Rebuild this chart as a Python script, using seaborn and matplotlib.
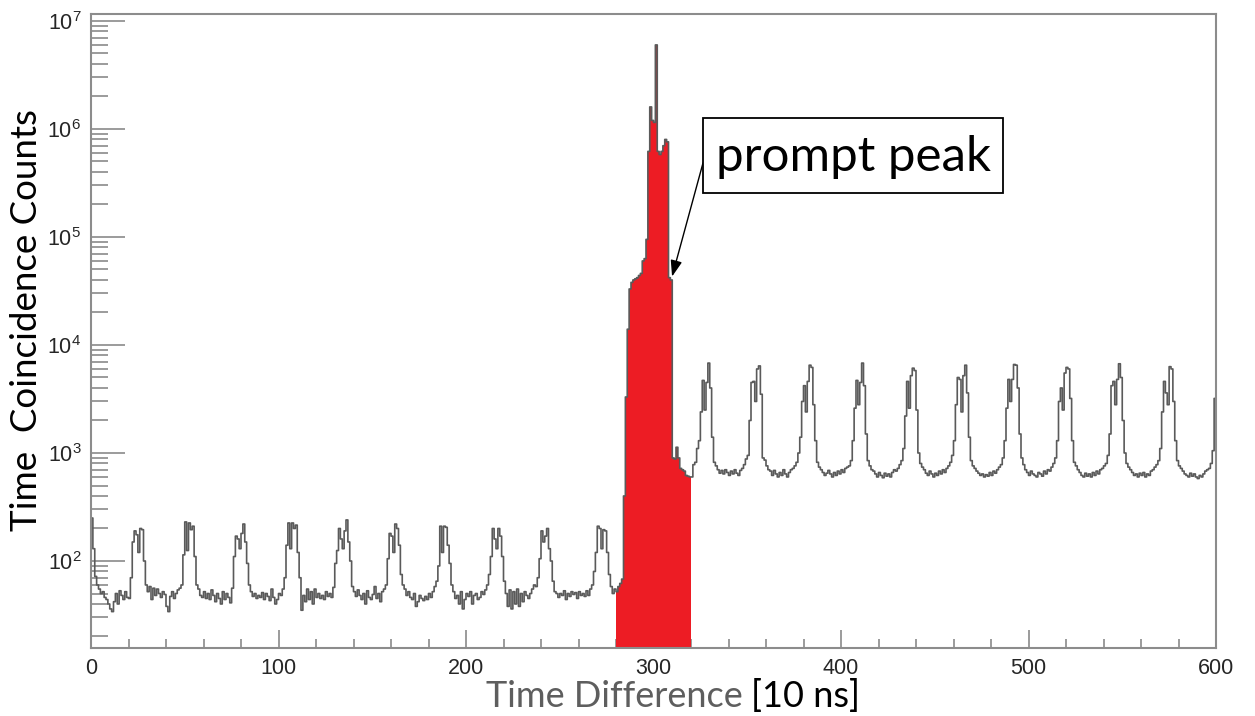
import numpy as np
import pandas as pd
import matplotlib
matplotlib.use("Agg")
import matplotlib.pyplot as plt
import seaborn as sns
from matplotlib.patches import Rectangle
from matplotlib.ticker import MultipleLocator, LogLocator, LogFormatterMathtext, NullFormatter, FixedLocator

# ---------------- data (counts per 1-unit bin) ----------------
# bins 0..279 (accidental coincidences before the prompt peak)
left_counts = [
    250, 130, 72, 60, 55, 50, 52, 46, 44, 40,
    36, 34, 42, 50, 40, 53, 48, 44, 52, 46,
    45, 70, 150, 190, 175, 120, 200, 195, 100, 60,
    52, 58, 44, 56, 48, 55, 50, 46, 52, 49,
    38, 34, 47, 52, 45, 50, 54, 56, 60, 114,
    230, 125, 225, 195, 210, 110, 60, 55, 48, 46,
    52, 45, 50, 44, 54, 48, 42, 50, 45, 40,
    52, 44, 50, 46, 41, 56, 110, 170, 160, 130,
    180, 220, 150, 95, 60, 52, 47, 50, 45, 48,
    46, 51, 44, 50, 47, 43, 55, 46, 40, 44,
    50, 48, 55, 70, 140, 225, 130, 225, 200, 215,
    120, 70, 35, 48, 42, 55, 44, 52, 40, 55,
    46, 50, 45, 48, 44, 52, 47, 50, 46, 57,
    95, 125, 200, 160, 130, 190, 240, 150, 100, 58,
    52, 47, 54, 48, 44, 50, 40, 53, 46, 44,
    49, 58, 45, 50, 42, 52, 55, 60, 105, 180,
    170, 120, 220, 200, 140, 75, 60, 55, 48, 52,
    46, 44, 50, 38, 42, 48, 45, 43, 47, 44,
    50, 46, 52, 58, 65, 90, 210, 120, 210, 205,
    140, 95, 60, 52, 45, 48, 40, 52, 36, 44,
    50, 47, 52, 40, 48, 50, 44, 46, 52, 49,
    54, 60, 75, 110, 200, 160, 130, 200, 170, 110,
    65, 50, 38, 54, 36, 52, 40, 55, 38, 50,
    42, 52, 48, 45, 50, 55, 60, 58, 70, 105,
    190, 150, 170, 200, 130, 100, 65, 52, 50, 46,
    50, 48, 53, 44, 50, 47, 52, 49, 51, 45,
    52, 48, 50, 47, 53, 48, 55, 60, 80, 120,
    210, 200, 130, 195, 190, 120, 75, 58, 50, 55,
]
# bins 280..319 (prompt window, drawn in red)
prompt_counts = [
    52, 58, 62, 68, 400, 3300, 14000, 33000, 38000, 40000,
    41000, 42000, 44000, 46000, 60000, 63000, 95000, 620000, 1600000, 1200000,
    1150000, 6000000, 620000, 580000, 620000, 700000, 800000, 760000, 42000, 40000,
    900, 880, 1130, 900, 720, 700, 680, 620, 610, 600,
]
# bins 320..599 (after the prompt peak)
right_counts = [
    600, 780, 820, 1100, 1300, 2400, 4700, 2500, 4500, 6800,
    4000, 1400, 820, 760, 700, 650, 690, 640, 700, 660,
    620, 680, 640, 700, 650, 620, 690, 720, 780, 880,
    950, 2000, 4500, 4600, 3000, 6000, 6400, 3500, 900, 860,
    760, 700, 680, 620, 690, 640, 600, 660, 620, 700,
    640, 600, 660, 700, 720, 760, 820, 1000, 1400, 3000,
    4200, 2400, 4600, 6500, 6200, 2800, 1300, 820, 740, 700,
    660, 620, 650, 690, 640, 600, 660, 620, 680, 640,
    700, 660, 720, 740, 760, 850, 1300, 2600, 4700, 2800,
    4500, 6800, 4200, 1500, 850, 760, 700, 680, 640, 600,
    660, 620, 590, 650, 610, 640, 600, 660, 700, 680,
    720, 780, 850, 1100, 2200, 4600, 2600, 5200, 6100, 5800,
    2500, 1000, 800, 740, 700, 650, 620, 680, 640, 600,
    650, 620, 680, 640, 700, 660, 720, 760, 820, 950,
    1300, 2800, 5000, 4800, 2400, 5200, 6500, 3600, 1400, 850,
    760, 720, 680, 650, 620, 640, 600, 630, 610, 660,
    620, 680, 650, 700, 740, 780, 900, 1300, 2600, 4800,
    3000, 4800, 6600, 6500, 4000, 1500, 900, 780, 700, 660,
    620, 680, 640, 620, 600, 660, 640, 610, 680, 640,
    700, 680, 740, 800, 900, 1300, 3000, 4000, 2500, 5500,
    6200, 6000, 3200, 1300, 820, 760, 700, 660, 620, 600,
    650, 610, 640, 600, 660, 620, 680, 640, 700, 720,
    760, 800, 950, 1500, 4200, 4600, 2800, 4800, 6700, 5000,
    2000, 1000, 800, 740, 700, 660, 620, 640, 600, 650,
    620, 660, 600, 640, 620, 680, 700, 740, 780, 850,
    1100, 2400, 4600, 3600, 2800, 6300, 6000, 3000, 1300, 850,
    760, 720, 680, 640, 620, 600, 650, 610, 640, 600,
    580, 620, 600, 640, 680, 700, 720, 800, 1050, 3200,
]
prompt_window = (280, 320)
x_major_ticks = [0, 100, 200, 300, 400, 500, 600]
y_limits = (15.65, 1.16e7)
x_label_main = "Time Difference"
x_label_unit = "[10 ns]"
y_label = "Time  Coincidence Counts"
note_text = "prompt peak"
note_target = (309.9, 4.3e4)

counts = np.array(left_counts + prompt_counts + right_counts, dtype=float)
assert len(counts) == 600, len(counts)
edges = [float(e) for e in range(len(counts) + 1)]
df = pd.DataFrame({"t": np.arange(len(counts)) + 0.5, "n": counts})
prompt_df = df[(df.t >= prompt_window[0]) & (df.t < prompt_window[1])].reset_index(drop=True)
prompt_edges = edges[prompt_window[0]:prompt_window[1] + 1]

# ---------------- style ----------------
sns.set_style("ticks")
plt.rcParams["font.family"] = ["Liberation Sans", "DejaVu Sans"]
plt.rcParams["mathtext.fontset"] = "custom"
plt.rcParams["mathtext.rm"] = "Liberation Sans"
plt.rcParams["mathtext.it"] = "Liberation Sans:italic"

W, H = 1255, 716
fig = plt.figure(figsize=(W / 100, H / 100), dpi=100)
ax = fig.add_axes([91 / W, 1 - 648 / H, 1125 / W, 634 / H])
ax.set_yscale("log")

sns.histplot(data=prompt_df, x="t", weights="n", bins=prompt_edges,
             element="step", fill=True, color="#ED1C24", alpha=1.0,
             linewidth=0, ax=ax)
sns.histplot(data=df, x="t", weights="n", bins=edges,
             element="step", fill=False, color="#5a5a5a", linewidth=1.2, ax=ax)

ax.set_xlim(0, 600)
ax.set_ylim(*y_limits)
ax.set_xlabel("")
ax.set_ylabel("")

ax.xaxis.set_major_locator(FixedLocator(x_major_ticks))
ax.xaxis.set_minor_locator(MultipleLocator(20))
ax.yaxis.set_major_locator(LogLocator(base=10, numticks=20))
ax.yaxis.set_minor_locator(LogLocator(base=10, subs=np.arange(2, 10), numticks=100))
ax.yaxis.set_major_formatter(LogFormatterMathtext())
ax.yaxis.set_minor_formatter(NullFormatter())

tick_col = "#8a8a8a"
ax.tick_params(axis="x", which="major", direction="in", length=13, width=1.2,
               color=tick_col, labelsize=15.5, pad=7, top=False)
ax.tick_params(axis="x", which="minor", direction="in", length=6.5, width=1.2,
               color=tick_col, top=False)
ax.tick_params(axis="y", which="major", direction="in", length=24.5, width=1.2,
               color=tick_col, labelsize=15.5, pad=7, right=False)
ax.tick_params(axis="y", which="minor", direction="in", length=12.2, width=1.2,
               color=tick_col, right=False)
for s in ax.spines.values():
    s.set_color("#8c8c8c")
    s.set_linewidth(1.5)

# axis titles (Calibri-like)
lab_font = ["Lato", "DejaVu Sans"]
fig.text(27 / W, 1 - 320 / H, y_label, rotation=90, ha="center", va="center",
         fontsize=26.5, family=lab_font, color="black")
fig.text(743 / W, 1 - 707 / H, x_label_main, ha="right", va="baseline",
         fontsize=26, family=lab_font, color="#5e5e5e")
fig.text(751 / W, 1 - 707 / H, x_label_unit, ha="left", va="baseline",
         fontsize=26, family=lab_font, color="black")

# annotation box + arrow
fig.patches.append(Rectangle((703 / W, 1 - 193 / H), 300 / W, 75 / H,
                             transform=fig.transFigure, fc="white", ec="black",
                             lw=1.3, zorder=5))
fig.text(853 / W, 1 - 171 / H, note_text, ha="center", va="baseline",
         fontsize=35.5, family=lab_font, color="black", zorder=6)
ax.annotate("", xy=note_target, xycoords="data",
            xytext=(703, H - 163), textcoords="figure pixels",
            arrowprops=dict(arrowstyle="-|>,head_length=0.7,head_width=0.25",
                            color="black", lw=1.0, shrinkA=0, shrinkB=0,
                            mutation_scale=14))

fig.savefig("out.png", dpi=100)
